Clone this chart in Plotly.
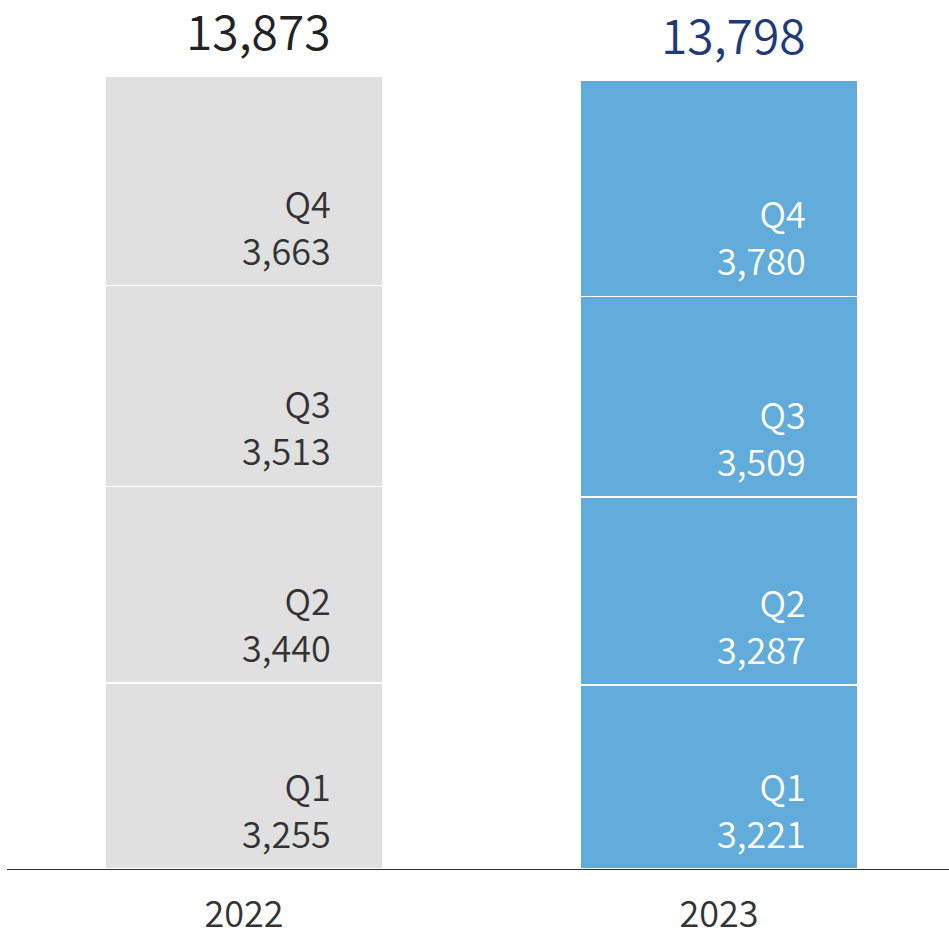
import plotly.graph_objects as go

years = ["2022", "2023"]
quarters = ["Q1", "Q2", "Q3", "Q4"]
q1 = [3255, 3221]
q2 = [3440, 3287]
q3 = [3513, 3509]
q4 = [3663, 3780]
totals = [13873, 13798]

series = [q1, q2, q3, q4]
bar_colors = ["#e0e0e0", "#62acdb"]
label_colors = ["#333333", "#ffffff"]
total_colors = ["#222222", "#1f3a78"]
FONT = "Noto Sans CJK JP"
W = 350
BAR_W = 0.585

fig = go.Figure()
for qname, vals in zip(quarters, series):
    fig.add_trace(go.Bar(
        x=[0, 1], y=vals, name=qname, width=BAR_W,
        marker=dict(color=bar_colors, line=dict(color="white", width=1.5)),
        hoverinfo="skip",
    ))

annotations = []
for i in range(len(years)):
    base = 0
    for qname, vals in zip(quarters, series):
        annotations.append(dict(
            x=i + BAR_W / 2, y=base, xref="x", yref="y",
            text=f"{qname}<br>{vals[i]:,}", showarrow=False,
            xanchor="right", yanchor="bottom", align="right",
            xshift=-50, yshift=9,
            font=dict(family=FONT, size=36, color=label_colors[i], weight=W),
        ))
        base += vals[i]
    annotations.append(dict(
        x=i + BAR_W / 2, y=totals[i], xref="x", yref="y",
        text=f"{totals[i]:,}", showarrow=False,
        xanchor="right", yanchor="bottom",
        xshift=-50, yshift=10,
        font=dict(family=FONT, size=48, color=total_colors[i], weight=W),
    ))

fig.update_layout(
    width=949, height=934,
    margin=dict(l=7, r=0, t=0, b=65),
    barmode="stack",
    showlegend=False,
    plot_bgcolor="white", paper_bgcolor="white",
    annotations=annotations,
    xaxis=dict(
        range=[-0.499, 1.484], tickmode="array", tickvals=[0, 1], ticktext=years,
        showgrid=False, zeroline=False, showline=True, linecolor="#333333", linewidth=1.3,
        ticks="", ticklabelstandoff=14, automargin=False,
        tickfont=dict(family=FONT, size=36, color="#333333", weight=W),
        fixedrange=True,
    ),
    yaxis=dict(range=[0, 15203], visible=False, showgrid=False, zeroline=False,
               fixedrange=True, automargin=False),
)

fig.write_html("out.html", config={"displayModeBar": False},
               post_script="document.body.style.margin='0';document.body.style.overflow='hidden';")
